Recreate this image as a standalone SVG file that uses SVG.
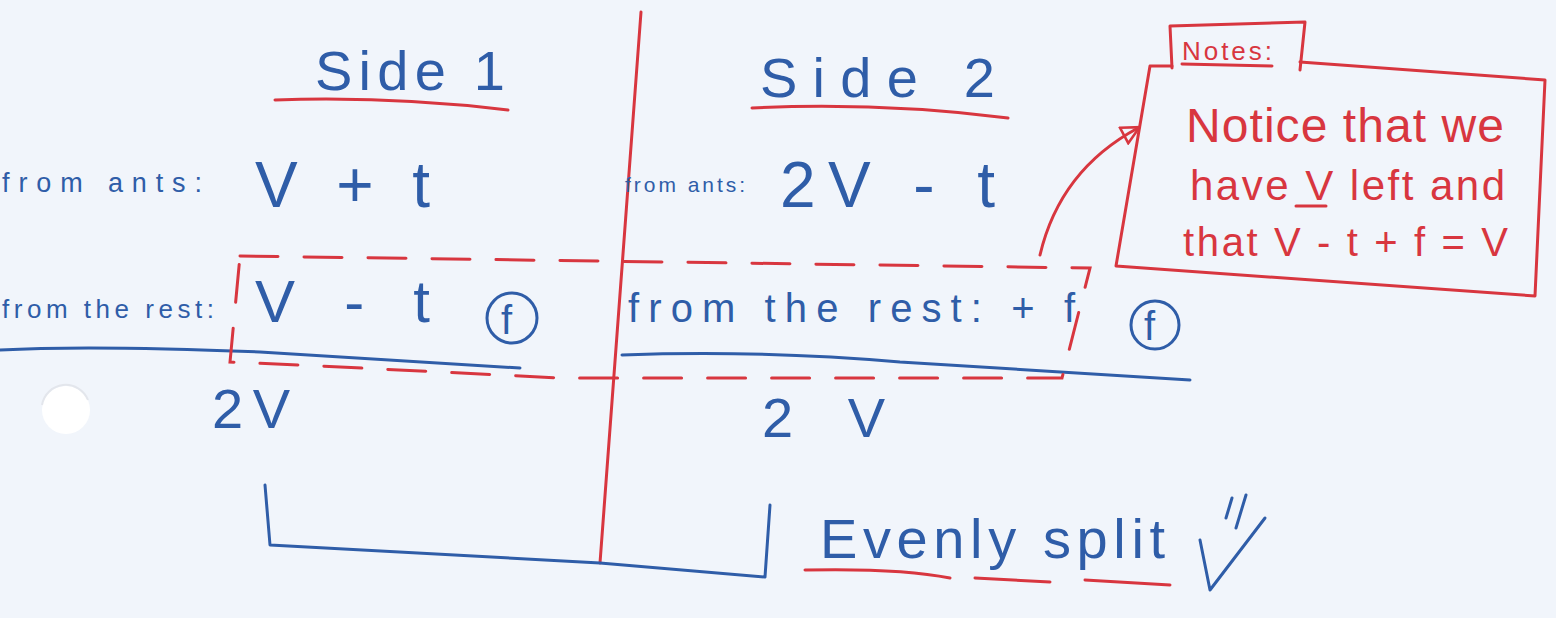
<svg xmlns="http://www.w3.org/2000/svg" width="1556" height="618" viewBox="0 0 1556 618">
<style>
.b{fill:#2f5da8;font-family:"Liberation Sans",sans-serif}
.r{fill:#d8363f;font-family:"Liberation Sans",sans-serif}
.bl{fill:none;stroke:#2f5da8;stroke-width:3;stroke-linecap:round;stroke-linejoin:round}
.rl{fill:none;stroke:#d8363f;stroke-width:3;stroke-linecap:round;stroke-linejoin:round}
.dash{fill:none;stroke:#d8363f;stroke-width:3;stroke-dasharray:38 26;stroke-linecap:round}
</style>
<defs>
<marker id="ah" viewBox="0 0 12 12" refX="10" refY="6" markerWidth="7" markerHeight="7" orient="auto" markerUnits="strokeWidth">
<path d="M1,1 L11,6 L1,11 Z" fill="none" stroke="#d8363f" stroke-width="1.5"/>
</marker>
</defs>
<rect width="1556" height="618" fill="#f1f5fb"/>
<circle cx="66" cy="410" r="24" fill="#ffffff"/>
<path d="M42,405 A24,24 0 0 1 88,400" fill="none" stroke="#e3e6ec" stroke-width="2"/>

<g id="divider"><path class="rl" d="M641,12 L600,563"/></g>

<g id="side1">
<text class="b" x="315" y="90" font-size="56" textLength="190">Side 1</text>
<path class="rl" d="M275,100 Q390,96 508,110"/>
<text class="b" x="2" y="192" font-size="27" textLength="200">from ants:</text>
<text class="b" x="255" y="207" font-size="64" textLength="175">V + t</text>
<text class="b" x="2" y="318" font-size="26" textLength="212">from the rest:</text>
<text class="b" x="255" y="322" font-size="60" textLength="175">V  -  t</text>
<circle class="bl" cx="512" cy="318" r="25"/>
<text class="b" x="501" y="334" font-size="40">f</text>
<path class="bl" d="M0,350 Q90,345 260,352 L520,368"/>
<text class="b" x="212" y="428" font-size="56" textLength="78">2V</text>
</g>

<g id="side2">
<text class="b" x="760" y="97" font-size="56" textLength="235">Side 2</text>
<path class="rl" d="M752,108 Q880,102 1008,118"/>
<text class="b" x="625" y="192" font-size="21" textLength="120">from ants:</text>
<text class="b" x="780" y="207" font-size="64" textLength="215">2V  - t</text>
<text class="b" x="628" y="322" font-size="40" textLength="447">from the rest: + f</text>
<circle class="bl" cx="1155" cy="325" r="24"/>
<text class="b" x="1144" y="340" font-size="40">f</text>
<path class="bl" d="M622,355 Q760,350 900,362 L1190,380"/>
<text class="b" x="762" y="437" font-size="56" textLength="123">2 V</text>
</g>

<g id="highlight">
<path class="dash" d="M240,256 L1090,268 L1062,378 L560,378 L320,366 L230,362 Z"/>
</g>

<g id="notes">
<path class="rl" d="M1172,68 L1170,26 L1305,22 L1300,70"/>
<text class="r" x="1182" y="60" font-size="26" textLength="90">Notes:</text>
<path class="rl" d="M1182,64 L1272,66"/>
<path class="rl" d="M1150,66 L1172,66 M1300,62 L1545,80 L1535,296 L1116,266 L1150,66"/>
<text class="r" x="1186" y="142" font-size="48" textLength="318">Notice that we</text>
<text class="r" x="1190" y="200" font-size="42" textLength="315">have V left and</text>
<path class="rl" d="M1296,206 L1326,206"/>
<text class="r" x="1183" y="256" font-size="40" textLength="325">that V - t + f = V</text>
</g>

<g id="connectors">
<path class="rl" d="M1040,255 Q1060,170 1138,128" marker-end="url(#ah)"/>
<path class="bl" d="M265,485 L270,545 L600,563 L765,577 L770,505"/>
</g>

<g id="conclusion">
<text class="b" x="820" y="558" font-size="56" textLength="345">Evenly split</text>
<path class="rl" d="M805,570 Q900,568 950,578 M975,578 L1050,582 M1085,580 L1170,585"/>
<path class="bl" d="M1200,540 L1210,590 L1265,518"/>
<path class="bl" d="M1232,498 L1226,518 M1246,495 L1236,528"/>
</g>
</svg>
